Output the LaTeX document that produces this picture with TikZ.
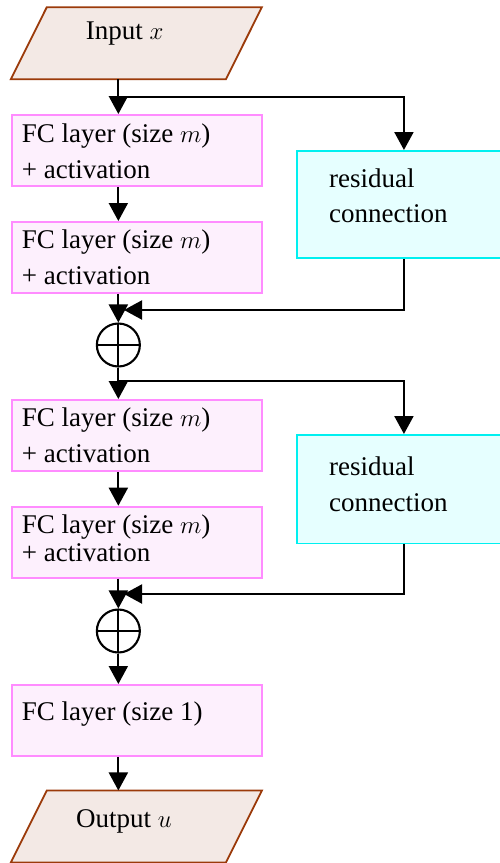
\documentclass[tikz,border=0pt]{standalone}
\usepackage{fontspec}
\setmainfont{Liberation Serif}
\usetikzlibrary{arrows.meta}
\definecolor{iofill}{RGB}{243,233,229}
\definecolor{iodraw}{RGB}{155,58,10}
\definecolor{fcfill}{RGB}{253,240,253}
\definecolor{fcdraw}{RGB}{255,140,255}
\definecolor{resfill}{RGB}{230,255,255}
\definecolor{resdraw}{RGB}{0,240,240}
\tikzset{
  iobox/.style={rectangle, minimum width=214.7pt, minimum height=71.7pt, inner sep=0pt},
  ioshape/.style={draw=iodraw, fill=iofill, line width=1.8pt, line join=miter},
  fcbox/.style={rectangle, draw=fcdraw, fill=fcfill, line width=1.9pt,
    minimum width=250pt, minimum height=71pt, anchor=north west, inner sep=0pt},
  resbox/.style={rectangle, draw=resdraw, fill=resfill, line width=1.9pt,
    minimum width=214pt, anchor=north west, inner sep=0pt},
  txt/.style={inner sep=0pt, anchor=base west},
  sumnode/.style={circle, draw, line width=2.1pt, minimum size=43pt, inner sep=0pt,
    path picture={\draw[line width=2.1pt] (path picture bounding box.north) -- (path picture bounding box.south)
      (path picture bounding box.west) -- (path picture bounding box.east);}},
  arr/.style={line width=2.1pt, -{Triangle[length=18pt,width=19pt]}}
}
\begin{document}
\begin{tikzpicture}[x=1pt,y=-1pt,font=\fontsize{27}{32}\selectfont]
\clip (0,0) rectangle (500,863);
% input
\node[iobox] (in) at (118.35,43.2) {};
\draw[ioshape] ([xshift=36pt]in.north west) -- ([xshift=36pt]in.north east) -- (in.south east) -- (in.south west) -- cycle;
\node[txt] (intxt) at (85.7,39) {Input $x$};
% FC boxes
\node[fcbox] (fc1) at (11,114) {};
\node[txt] (fc1a) at (21.7,142.7) {FC layer (size $m$)};
\node[txt] (fc1b) at (21.7,178) {+ activation};
\node[fcbox] (fc2) at (11,221) {};
\node[txt] (fc2a) at (21.7,248) {FC layer (size $m$)};
\node[txt] (fc2b) at (21.7,284.5) {+ activation};
\node[fcbox] (fc3) at (11,399) {};
\node[txt] (fc3a) at (21.7,426) {FC layer (size $m$)};
\node[txt] (fc3b) at (21.7,462.7) {+ activation};
\node[fcbox] (fc4) at (11,505.7) {};
\node[txt] (fc4a) at (21.7,533.3) {FC layer (size $m$)};
\node[txt] (fc4b) at (21.7,561.7) {+ activation};
\node[fcbox] (fc5) at (11,684) {};
\node[txt] (fc5a) at (21.7,720) {FC layer (size 1)};
% residual boxes
\node[resbox, minimum height=107pt] (res1) at (296,150) {};
\node[txt] (res1a) at (329,187.3) {residual};
\node[txt] (res1b) at (329,222.7) {connection};
\node[resbox, minimum height=108.5pt] (res2) at (296,434) {};
\node[txt] (res2a) at (329,475.7) {residual};
\node[txt] (res2b) at (329,511) {connection};
% sums
\node[sumnode] (s1) at (118.35,345) {};
\node[sumnode] (s2) at (118.35,631) {};
% output
\node[iobox] (out) at (118.35,826.5) {};
\draw[ioshape] ([xshift=36pt]out.north west) -- ([xshift=36pt]out.north east) -- (out.south east) -- (out.south west) -- cycle;
\node[txt] (outtxt) at (76,827.3) {Output $u$};
% coordinates
\coordinate (b1) at (118.35,97);
\coordinate (j1) at (124,310);
\coordinate (b2) at (118.35,381);
\coordinate (j2) at (124,594);
% connectors
\draw[arr] (in.south) -- (fc1.north -| in.south);
\draw[arr] (b1) -| (res1.north);
\draw[arr] (fc1.south -| b1) -- (fc2.north -| b1);
\draw[arr] (fc2.south -| b1) -- (s1.north);
\draw[arr] (res1.south) |- (j1);
\draw[arr] (s1.south) -- (fc3.north -| b1);
\draw[arr] (b2) -| (res2.north);
\draw[arr] (fc3.south -| b1) -- (fc4.north -| b1);
\draw[arr] (fc4.south -| b1) -- (s2.north);
\draw[arr] (res2.south) |- (j2);
\draw[arr] (s2.south) -- (fc5.north -| b1);
\draw[arr] (fc5.south -| b1) -- (out.north);
\end{tikzpicture}
\end{document}
